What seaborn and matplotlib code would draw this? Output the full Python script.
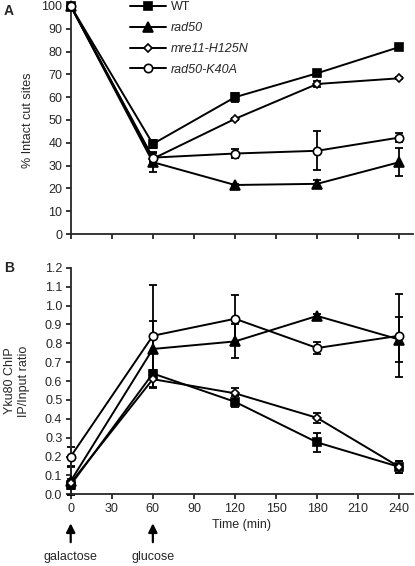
import numpy as np
import pandas as pd
import matplotlib
matplotlib.use("Agg")
import matplotlib.pyplot as plt
import seaborn as sns

# time points (min)
time = [0, 60, 120, 180, 240]
strains = ["WT", "rad50", "mre11-H125N", "rad50-K40A"]

# panel A: % intact cut sites
cut_wt = [100, 39.5, 60, 70.5, 82]
cut_rad50 = [100, 31.5, 21.5, 22, 31.5]
cut_mre11 = [100, 33, 50.5, 65.8, 68.3]
cut_k40a = [100, 33.5, 35.3, 36.5, 42.3]
cut_err_wt = [0, 1.8, 2, 1, 1]
cut_err_rad50 = [0, 4.5, 0.5, 1.5, 6.2]
cut_err_mre11 = [0, 1, 0.5, 1.2, 0.5]
cut_err_k40a = [0, 2, 2, 8.6, 2]

# panel B: Yku80 ChIP IP/Input ratio
chip_wt = [0.05, 0.64, 0.49, 0.275, 0.145]
chip_rad50 = [0.07, 0.77, 0.81, 0.945, 0.82]
chip_mre11 = [0.06, 0.61, 0.535, 0.405, 0.145]
chip_k40a = [0.20, 0.84, 0.93, 0.775, 0.84]
chip_err_wt = [0.02, 0.02, 0.03, 0.05, 0.03]
chip_err_rad50 = [0.075, 0.15, 0.09, 0.01, 0.12]
chip_err_mre11 = [0.02, 0.045, 0.03, 0.025, 0.03]
chip_err_k40a = [0.05, 0.27, 0.125, 0.03, 0.22]

markers = {"WT": "s", "rad50": "^", "mre11-H125N": "D", "rad50-K40A": "o"}
msize = {"WT": 6, "rad50": 6.5, "mre11-H125N": 4.5, "rad50-K40A": 6}
fills = {"WT": "black", "rad50": "black", "mre11-H125N": "white", "rad50-K40A": "white"}

FS = 9


def long_table(vals, errs):
    rows = []
    for s in strains:
        for t, v, e in zip(time, vals[s], errs[s]):
            rows.append({"time": t, "strain": s, "value": v, "err": e})
    return pd.DataFrame(rows)


dfA = long_table({"WT": cut_wt, "rad50": cut_rad50, "mre11-H125N": cut_mre11, "rad50-K40A": cut_k40a},
                 {"WT": cut_err_wt, "rad50": cut_err_rad50, "mre11-H125N": cut_err_mre11, "rad50-K40A": cut_err_k40a})
dfB = long_table({"WT": chip_wt, "rad50": chip_rad50, "mre11-H125N": chip_mre11, "rad50-K40A": chip_k40a},
                 {"WT": chip_err_wt, "rad50": chip_err_rad50, "mre11-H125N": chip_err_mre11, "rad50-K40A": chip_err_k40a})

sns.set_style("ticks")
plt.rcParams["font.family"] = ["Liberation Sans", "DejaVu Sans"]

fig = plt.figure(figsize=(4.15, 5.66), dpi=100)
axA = fig.add_axes([70.7 / 415, 1 - 234 / 566, (413 - 70.7) / 415, 228 / 566])
axB = fig.add_axes([70.7 / 415, 1 - 494.3 / 566, (413 - 70.7) / 415, 226.5 / 566])


def draw(ax, df):
    handles = []
    for s in strains:
        d = df[df.strain == s]
        ax.errorbar(d.time, d.value, yerr=d.err, fmt="none", ecolor="black",
                    elinewidth=1.3, capsize=3, capthick=1.3, clip_on=False, zorder=2)
        sns.lineplot(data=d, x="time", y="value", ax=ax, color="black", lw=1.4,
                     marker=markers[s], markersize=msize[s], markerfacecolor=fills[s],
                     markeredgecolor="black", markeredgewidth=1.2, errorbar=None,
                     clip_on=False, zorder=3, legend=False)
        handles.append(ax.lines[-1])
    for side in ["top", "right"]:
        ax.spines[side].set_visible(False)
    for side in ["left", "bottom"]:
        ax.spines[side].set_linewidth(1.3)
    ax.set_xlim(0, 250)
    ax.set_xticks(range(0, 241, 30))
    ax.tick_params(direction="out", length=3.5, width=1.3, labelsize=FS, pad=2.5)
    ax.set_xlabel("")
    return handles


handles = draw(axA, dfA)
axA.set_ylim(0, 100)
axA.set_yticks(range(0, 101, 10))
axA.set_xticklabels([])
axA.set_ylabel("% Intact cut sites", fontsize=FS)
axA.yaxis.set_label_coords(-0.108, 0.5)
leg = fig.legend(handles=handles, labels=strains, loc="upper left",
                 bbox_to_anchor=(130 / 415, 1 - 1.5 / 566), frameon=False, fontsize=FS,
                 handlelength=2.9, labelspacing=0.7, borderpad=0, borderaxespad=0, handletextpad=0.4)
for txt in leg.get_texts()[1:]:
    txt.set_fontstyle("italic")

draw(axB, dfB)
axB.set_ylim(0, 1.2)
axB.set_yticks(np.arange(0, 1.21, 0.1))
axB.set_yticklabels([f"{v:.1f}" for v in np.arange(0, 1.21, 0.1)])
axB.set_ylabel("Yku80 ChIP\nIP/Input ratio", fontsize=FS, linespacing=1.2)
axB.yaxis.set_label_coords(-0.12, 0.5)
axB.set_xlabel("Time (min)", fontsize=FS, labelpad=3)

trans = axB.get_xaxis_transform()
for t, txt in [(0, "galactose"), (60, "glucose")]:
    axB.annotate(txt, xy=(t, -0.128), xycoords=trans, xytext=(t, -0.277), textcoords=trans,
                 ha="center", va="center", fontsize=FS,
                 arrowprops=dict(arrowstyle="-|>", color="black", lw=1.6, mutation_scale=13,
                                 shrinkA=4, shrinkB=0))

fig.text(4 / 415, 1 - 11 / 566, "A", fontsize=10, fontweight="bold", va="center")
fig.text(4 / 415, 1 - 268 / 566, "B", fontsize=10, fontweight="bold", va="center")

fig.savefig("out.png", dpi=100)
